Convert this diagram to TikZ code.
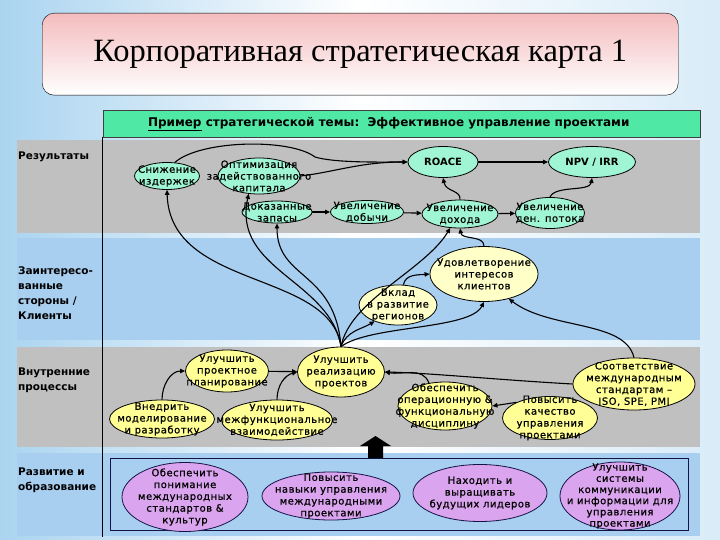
\documentclass[tikz,border=0pt]{standalone}
\usepackage{fontspec}
\setmainfont{Liberation Serif}
\newfontfamily\nodefont[LetterSpace=5,FakeBold=0.6]{DejaVu Sans}
\newfontfamily\headfont{DejaVu Sans}
\usetikzlibrary{shapes.geometric,arrows.meta}
\definecolor{bgblue}{RGB}{170,212,240}
\definecolor{titlepink}{RGB}{244,188,190}
\definecolor{headgreen}{RGB}{80,232,165}
\definecolor{rowgray}{RGB}{192,192,192}
\definecolor{rowblue}{RGB}{168,206,240}
\definecolor{mint}{RGB}{160,245,212}
\definecolor{paleyellow}{RGB}{255,255,200}
\definecolor{lemon}{RGB}{255,255,150}
\definecolor{orchid}{RGB}{218,165,238}
\definecolor{boxnavy}{RGB}{20,20,70}
\begin{document}
\begin{tikzpicture}[x=1pt,y=-1pt,
    goal/.style={ellipse,draw=black,line width=0.8pt,inner sep=0pt},
    goaltext/.style={align=center,inner sep=0pt,font=\nodefont\fontsize{10}{11.8}\selectfont},
    boldtext/.style={align=center,inner sep=0pt,font=\headfont\bfseries\fontsize{10}{12}\selectfont},
    result/.style={goal,fill=mint},
    client/.style={goal,fill=paleyellow},
    process/.style={goal,fill=lemon},
    growth/.style={goal,fill=orchid,draw=boxnavy},
    rowlabel/.style={anchor=north west,align=left,inner sep=0pt,
      font=\headfont\bfseries\fontsize{10.5}{15}\selectfont},
    link/.style={-{Triangle[length=5pt,width=4.5pt]},line width=1.1pt}]
  \useasboundingbox (0,0) rectangle (720,540);
  \shade[left color=bgblue,right color=bgblue!45,middle color=white] (0,0) rectangle (720,540);
  \node[draw,rounded corners=12pt,top color=titlepink,bottom color=white,
    minimum width=636,minimum height=82,anchor=north west,
    font=\fontsize{32.5}{38}\selectfont] (title) at (42,13) {Корпоративная стратегическая карта 1};
  \node[draw=black!75,fill=headgreen,minimum width=597,minimum height=27,anchor=north west,
    label={[xshift=-13pt,font=\headfont\bfseries\fontsize{12}{14}\selectfont]center:\underline{Пример} стратегической темы:\ \ Эффективное управление проектами}]
    (theme) at (103,110) {};
  \fill[rowgray] (17,140) rectangle (700,233);
  \fill[rowblue] (17,238) rectangle (700,340);
  \fill[rowgray] (17,347) rectangle (700,447);
  \fill[rowblue] (17,453) rectangle (700,536);
  \draw[line width=0.8pt] (102,137) -- (102,537);
  \draw[boxnavy,line width=0.8pt] (110,458) rectangle (688,530);
  \node[rowlabel] (lresults) at (18,152) {Результаты};
  \node[rowlabel] (lclients) at (18,267) {Заинтересо-\\ванные\\стороны /\\Клиенты};
  \node[rowlabel] (lprocess) at (18,368) {Внутренние\\процессы};
  \node[rowlabel] (lgrowth) at (18,468) {Развитие и\\образование};

  \node[result,minimum width=65,minimum height=27,label={[goaltext]center:Снижение\\издержек}] (cost) at (167,176) {};
  \node[result,minimum width=82,minimum height=36,label={[goaltext]center:Оптимизация\\задействованного\\капитала}] (capital) at (259,176) {};
  \node[result,minimum width=70,minimum height=22,label={[goaltext]center:Доказанные\\запасы}] (reserves) at (277,212) {};
  \node[result,minimum width=73,minimum height=23,label={[goaltext]center:Увеличение\\добычи}] (output) at (367,212) {};
  \node[result,minimum width=70,minimum height=31,label={[boldtext]center:ROACE}] (roace) at (443,162) {};
  \node[result,minimum width=87,minimum height=31,label={[boldtext]center:NPV / IRR}] (npv) at (592,162) {};
  \node[result,minimum width=76,minimum height=28,label={[goaltext]center:Увеличение\\дохода}] (revenue) at (460,214) {};
  \node[result,minimum width=69,minimum height=31,label={[goaltext]center:Увеличение\\ден. потока}] (cashflow) at (550,213) {};

  \node[client,minimum width=108,minimum height=55,label={[goaltext]center:Удовлетворение\\интересов\\клиентов}] (clients) at (484,274) {};
  \node[client,minimum width=78,minimum height=40,label={[goaltext]center:Вклад\\в развитие\\регионов}] (regions) at (398,305) {};

  \node[process,minimum width=83,minimum height=42,label={[goaltext]center:Улучшить\\проектное\\планирование}] (planning) at (227,371) {};
  \node[process,minimum width=87,minimum height=50,label={[goaltext]center:Улучшить\\реализацию\\проектов}] (delivery) at (341,372) {};
  \node[process,minimum width=94,minimum height=48,label={[goaltext]center:Обеспечить\\операционную \&\\функциональную\\дисциплину}] (discipline) at (445,406) {};
  \node[process,minimum width=95,minimum height=43,label={[goaltext]center:Повысить\\качество\\управления\\проектами}] (quality) at (550,418) {};
  \node[process,minimum width=122,minimum height=52,label={[goaltext]center:Соответствие\\международным\\стандартам –\\ISO, SPE, PMI}] (standards) at (634,384) {};
  \node[process,minimum width=105,minimum height=38,label={[goaltext]center:Внедрить\\моделирование\\и разработку}] (modeling) at (162,419) {};
  \node[process,minimum width=111,minimum height=40,label={[goaltext]center:Улучшить\\межфункциональное\\взаимодействие}] (crossfunc) at (277,420) {};

  \node[growth,minimum width=126,minimum height=69,label={[goaltext]center:Обеспечить\\понимание\\международных\\стандартов \&\\культур}] (culture) at (185,497) {};
  \node[growth,minimum width=138,minimum height=48,label={[goaltext]center:Повысить\\навыки управления\\международными\\проектами}] (skills) at (331,496) {};
  \node[growth,minimum width=134,minimum height=57,label={[goaltext]center:Находить и\\выращивать\\будущих лидеров}] (leaders) at (480,493) {};
  \node[growth,minimum width=120,minimum height=68,label={[goaltext,font=\nodefont\fontsize{10}{11.2}\selectfont]center:Улучшить\\системы\\коммуникации\\и информации для\\управления\\проектами}] (comms) at (620,496) {};

  \fill (368,458) -- (368,446) -- (360,446) -- (375.5,436) -- (391,446) -- (383,446) -- (383,458) -- cycle;

  \begin{scope}[link]
    \draw (cost.60) .. controls (200,140) and (290,138) .. (315,157) .. controls (335,163) and (380,162) .. (roace.west);
    \draw (capital.east) .. controls (335,172) and (360,162) .. (roace.west);
    \draw (roace) -- (npv);
    \draw (reserves) -- (output);
    \draw (output) -- (revenue);
    \draw (revenue) -- (cashflow);
    \draw (revenue.north) .. controls (461,190) and (446,192) .. (roace.south);
    \draw (cashflow.north) .. controls (555,185) and (590,192) .. (npv.south);
    \draw (delivery.north) .. controls (330,270) and (170,290) .. (cost.south);
    \draw (delivery.north) .. controls (330,280) and (232,270) .. (capital.240);
    \draw (delivery.north) .. controls (335,270) and (277,280) .. (reserves.south);
    \draw (delivery.north) .. controls (350,300) and (425,270) .. (revenue.235);
    \draw (delivery.north) to[out=70,in=210] (regions.215);
    \draw (delivery.north) .. controls (370,325) and (470,330) .. (clients.south);
    \draw (regions.75) to[out=80,in=185] (clients.west);
    \draw (clients.north) .. controls (484,235) and (462,240) .. (revenue.south);
    \draw (standards.north) .. controls (625,320) and (550,330) .. (clients.-45);
    \draw (planning) -- (delivery);
    \draw (modeling.north) to[out=90,in=180] (planning.west);
    \draw (crossfunc.north) to[out=90,in=195] (delivery.west);
    \draw (standards.west) .. controls (500,380) and (430,373) .. (delivery.east);
    \draw (discipline.125) to[out=110,in=-10] (delivery.east);
    \draw (quality.155) -- (discipline.east);
  \end{scope}
\end{tikzpicture}
\end{document}
